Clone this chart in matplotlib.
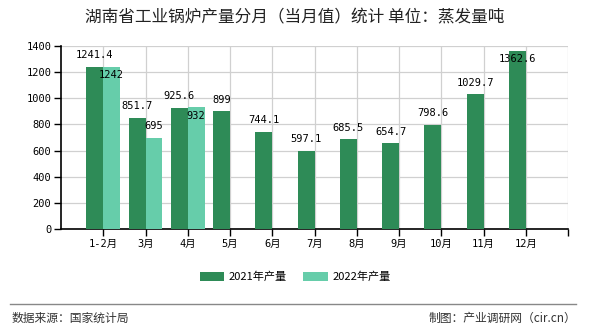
import matplotlib
matplotlib.use("Agg")
import matplotlib.pyplot as plt
import numpy as np

plt.rcParams['font.family'] = ['Noto Sans CJK SC', 'DejaVu Sans']

months = ["1-2月", "3月", "4月", "5月", "6月", "7月", "8月", "9月", "10月", "11月", "12月"]
prod_2021 = [1241.4, 851.7, 925.6, 899, 744.1, 597.1, 685.5, 654.7, 798.6, 1029.7, 1362.6]
prod_2022 = [1242, 695, 932]
label_2021 = ["1241.4", "851.7", "925.6", "899", "744.1", "597.1", "685.5", "654.7", "798.6", "1029.7", "1362.6"]
label_2022 = ["1242", "695", "932"]
yticks = [0, 200, 400, 600, 800, 1000, 1200, 1400]

c21 = "#2e8b57"
c22 = "#66cdaa"
mono = ['DejaVu Sans Mono', 'Noto Sans CJK SC']

fig = plt.figure(figsize=(5.9, 3.3), dpi=100)
ax = fig.add_axes([61 / 590, 1 - 229 / 330, 507 / 590, 183 / 330])

x = np.arange(len(months))
w = 0.4
b21 = ax.bar(x - w / 2, prod_2021, w, color=c21, label="2021年产量", zorder=3)
x22 = x[:len(prod_2022)]
b22 = ax.bar(x22 + w / 2, prod_2022, w, color=c22, label="2022年产量", zorder=3)

# labels that sit inside the bar top
inside_21 = {10}
inside_22 = {0, 2}
for i, v in enumerate(prod_2021):
    off = -6 if i in inside_21 else 8.5
    ax.annotate(label_2021[i], (x[i] - w / 2, v), xytext=(0, off), textcoords="offset points",
                ha="center", va="center", fontsize=7.5, family=mono, zorder=5, annotation_clip=False)
for i, v in enumerate(prod_2022):
    off = -6 if i in inside_22 else 8.5
    ax.annotate(label_2022[i], (x22[i] + w / 2, v), xytext=(0, off), textcoords="offset points",
                ha="center", va="center", fontsize=7.5, family=mono, zorder=5, annotation_clip=False)

ax.set_xlim(-1, len(months))
ax.set_ylim(0, 1400)
ax.set_xticks(list(x) + [len(months)])
ax.set_xticklabels(months + [""], family=mono, fontsize=7.5)
ax.set_yticks(yticks)
ax.set_yticklabels([str(t) for t in yticks], family=mono, fontsize=7.5)
ax.grid(True, color="#d0d0d0", linewidth=0.9, zorder=0)
ax.tick_params(length=5, width=1, pad=2, colors="black")
ax.spines["top"].set_visible(False)
ax.spines["right"].set_visible(False)
ax.spines["left"].set_linewidth(1.2)
ax.spines["bottom"].set_linewidth(1.2)

fig.text(0.5, 1 - 18 / 330, "湖南省工业锅炉产量分月（当月值）统计 单位：蒸发量吨",
         ha="center", va="center", fontsize=12, color="#222222")

fig.legend(handles=[b21, b22], loc="center", bbox_to_anchor=(0.5, 1 - 277 / 330), ncol=2,
           frameon=False, fontsize=8, handlelength=2.2, handleheight=0.8,
           columnspacing=1.5, handletextpad=0.4)

fig.add_artist(plt.Line2D([10 / 590, 576 / 590], [1 - 304 / 330, 1 - 304 / 330],
                          color="#888888", linewidth=1))
fig.text(12 / 590, 1 - 318 / 330, "数据来源：国家统计局", ha="left", va="center",
         fontsize=8.5, color="#333333")
fig.text(576 / 590, 1 - 318 / 330, "制图：产业调研网（cir.cn）", ha="right", va="center",
         fontsize=8.5, color="#333333")

fig.savefig("out.png", dpi=100)
